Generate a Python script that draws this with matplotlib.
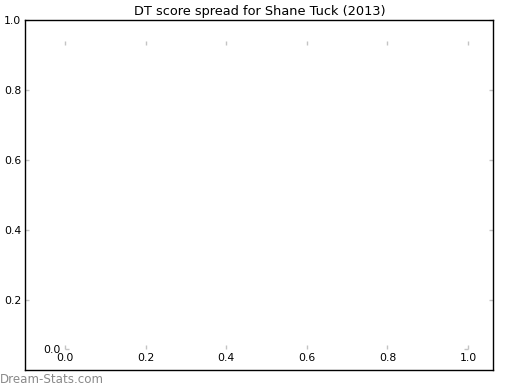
import matplotlib
matplotlib.use("Agg")
import matplotlib.pyplot as plt

title = "DT score spread for Shane Tuck (2013)"
watermark = "Dream-Stats.com"

# outer frame: only y ticks, 0.2 .. 1.0
outer_yticks = [0.2, 0.4, 0.6, 0.8, 1.0]
outer_ylabels = ["0.2", "0.4", "0.6", "0.8", "1.0"]

# inner (empty) plot: x ticks 0.0 .. 1.0, a single y tick at 0.0
inner_xticks = [0.0, 0.2, 0.4, 0.6, 0.8, 1.0]
inner_xlabels = ["0.0", "0.2", "0.4", "0.6", "0.8", "1.0"]
inner_yticks = [0.0]
inner_ylabels = ["0.0"]

TICK_GREY = "#c4c4c4"
FS = 7.8

fig = plt.figure(figsize=(5.2, 3.9), dpi=100)

outer = fig.add_axes([0.049, 0.051, 0.9, 0.899])
outer.set_xlim(0, 1)
outer.set_ylim(0, 1)
outer.set_xticks([])
outer.set_yticks(outer_yticks)
outer.set_yticklabels(outer_ylabels)
outer.tick_params(axis="y", direction="in", length=3, width=1, color=TICK_GREY,
                  left=True, right=True, labelsize=FS, pad=3)
for sp in outer.spines.values():
    sp.set_linewidth(1.0)
outer.set_title(title, fontsize=9.3, pad=3.5)

inner = fig.add_axes([0.125, 0.105, 0.775, 0.79])
inner.patch.set_visible(False)
inner.set_xlim(0, 1)
inner.set_ylim(0, 1)
inner.set_xticks(inner_xticks)
inner.set_xticklabels(inner_xlabels)
inner.set_yticks(inner_yticks)
inner.set_yticklabels(inner_ylabels)
inner.tick_params(direction="in", length=3, width=1, color=TICK_GREY,
                  top=True, right=True, labelsize=FS, pad=3)
for sp in inner.spines.values():
    sp.set_visible(False)

fig.text(0.0, 0.01, watermark, color="#8a8a8a", fontsize=8.6, ha="left", va="bottom")

fig.savefig("out.png", dpi=100)
